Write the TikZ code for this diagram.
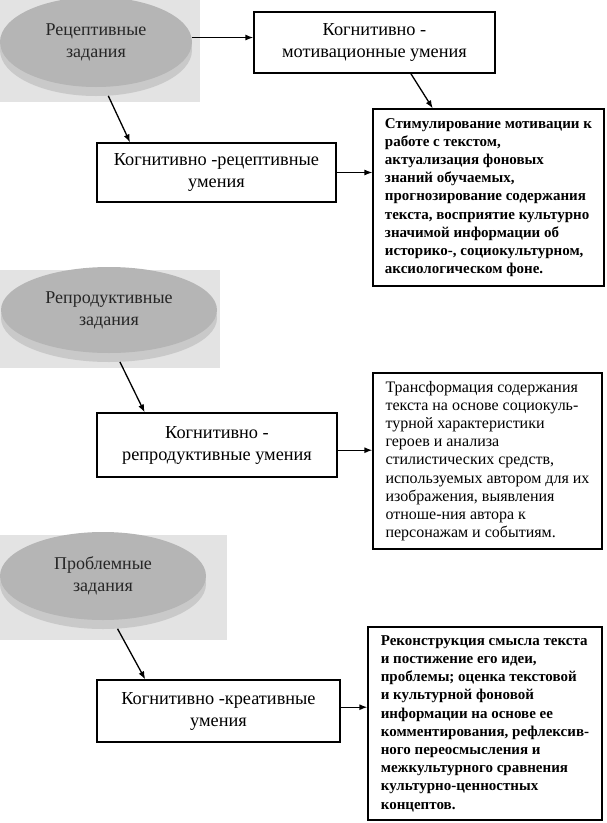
\documentclass[tikz,border=0pt]{standalone}
\usepackage{fontspec}
\setmainfont{Liberation Serif}
\usetikzlibrary{shapes.geometric,arrows.meta,calc}
\begin{document}
\begin{tikzpicture}[x=1pt,y=-1pt,
  skill/.style={draw, line width=1.2pt, align=center, inner sep=0pt,
    font=\fontsize{18.3}{22}\selectfont},
  info/.style={draw, line width=1.2pt, align=left, inner sep=0pt,
    font=\fontsize{15}{18.2}\selectfont\bfseries},
  taskbg/.style={fill=gray!22},
  taskrim/.style={ellipse, fill=gray!42, inner sep=0pt},
  taskface/.style={ellipse, fill=gray!58, inner sep=0pt, align=center,
    text=black!85, font=\fontsize{18}{22}\selectfont},
  arr/.style={-{Latex[length=8pt,width=6pt]}, line width=1.3pt}]
\useasboundingbox (0,0) rectangle (606,823);

% ---- task ellipses ----
\fill[taskbg] (0,0) rectangle (200,102);
\node[taskrim, minimum width=192pt, minimum height=92pt] (e1r) at (96,50) {};
\node[taskface, minimum width=192pt, minimum height=90pt] (e1) at (96,42) {Рецептивные\\задания};

\fill[taskbg] (0,270) rectangle (220,368);
\node[taskrim, minimum width=216pt, minimum height=88pt] (e2r) at (109,318) {};
\node[taskface, minimum width=216pt, minimum height=86pt] (e2) at (109,310) {Репродуктивные\\задания};

\fill[taskbg] (0,535) rectangle (227,640);
\node[taskrim, minimum width=206pt, minimum height=90pt] (e3r) at (103,584) {};
\node[taskface, minimum width=206pt, minimum height=88pt] (e3) at (103,576) {Проблемные\\задания};

% ---- skill boxes ----
\node[skill, minimum width=241pt, minimum height=61pt] (m1) at (374.5,42.5) {Когнитивно -\\мотивационные умения};
\node[skill, minimum width=239pt, minimum height=59pt] (b2) at (216.5,172.5) {Когнитивно -рецептивные\\умения};
\node[skill, minimum width=240pt, minimum height=64pt] (b3) at (217,445) {Когнитивно -\\репродуктивные умения};
\node[skill, minimum width=243pt, minimum height=62pt] (b4) at (218.5,711) {Когнитивно -креативные\\умения};

% ---- info boxes ----
\node[info, minimum width=231pt, minimum height=177pt] (i1) at (488.5,197.5) {Стимулирование мотивации к\\работе с текстом,\\актуализация фоновых\\знаний обучаемых,\\прогнозирование содержания\\текста, восприятие культурно\\значимой информации об\\историко-, социокультурном,\\аксиологическом фоне.};
\node[info, minimum width=229pt, minimum height=176pt, font=\fontsize{16}{18.2}\selectfont] (i2) at (487.5,461) {Трансформация содержания\\текста на основе социокуль-\\турной характеристики\\героев и анализа\\стилистических средств,\\используемых автором для их\\изображения, выявления\\отноше-ния автора к\\персонажам и событиям.};
\node[info, minimum width=234pt, minimum height=193pt] (i3) at (485,723.5) {Реконструкция смысла текста\\и постижение его идеи,\\проблемы; оценка текстовой\\и культурной фоновой\\информации на основе ее\\комментирования, рефлексив-\\ного переосмысления и\\межкультурного сравнения\\культурно-ценностных\\концептов.};

% ---- connectors ----
\coordinate (m1in) at ($(m1.north west)!0.42!(m1.south west)$);
\draw[arr] (e1.east |- m1in) -- (m1in);
\draw[arr] ($(m1.south west)!0.65!(m1.south east)$) -- ($(i1.north west)!0.26!(i1.north east)$);
\draw[arr] (e1r.-75) -- ($(b2.north west)!0.14!(b2.north east)$);
\draw[arr] (b2.east) -- (b2.east -| i1.west);

\draw[arr] (e2r.-76) -- ($(b3.north west)!0.2!(b3.north east)$);
\coordinate (b3out) at ($(b3.north east)!0.58!(b3.south east)$);
\draw[arr] (b3out) -- (b3out -| i2.west);

\draw[arr] (e3r.-72) -- ($(b4.north west)!0.2!(b4.north east)$);
\coordinate (b4out) at ($(b4.north east)!0.44!(b4.south east)$);
\draw[arr] (b4out) -- (b4out -| i3.west);
\end{tikzpicture}
\end{document}
